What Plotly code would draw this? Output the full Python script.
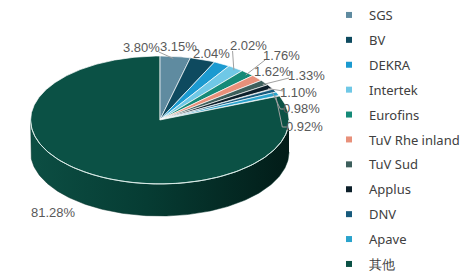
import numpy as np
import plotly.graph_objects as go

# ---- data ----
companies = ["SGS", "BV", "DEKRA", "Intertek", "Eurofins", "TuV Rhe inland",
             "TuV Sud", "Applus", "DNV", "Apave", "其他"]
shares = [3.80, 3.15, 2.04, 2.02, 1.76, 1.62, 1.33, 1.10, 0.98, 0.92, 81.28]
pct_labels = ["3.80%", "3.15%", "2.04%", "2.02%", "1.76%", "1.62%", "1.33%",
              "1.10%", "0.98%", "0.92%", "81.28%"]

# ---- style ----
colors = ["#5f8ba0", "#0e4a5f", "#1b9ad0", "#6fc8e6", "#158a78", "#e8907a",
          "#3d5f5c", "#0c1f2a", "#175a7c", "#2aa3cc", "#0b5145"]
CX, CY, A, B, DEPTH = 167, 120, 135, 64, 32
label_xy = [(148, 47), (186, 46), (221, 53), (260, 45), (294, 55), (285, 71),
            (320, 75), (312, 92), (315, 108), (318, 126), (56, 212)]
# label-side points of each leader line (the slice-side end is computed)
leader_pts = [[(166, 52)], [], [], [(243, 51)], [(277, 60)], [],
              [(302, 78)], [(296, 91)], [(298, 109), (293, 109)],
              [(301, 127), (295, 127)], []]

def rim(theta_deg, dy=0.0):
    t = np.radians(theta_deg)
    return CX + A * np.sin(t), CY - B * np.cos(t) + dy

fig = go.Figure()

# side wall (front half, 90..270 deg clockwise from 12 o'clock)
th = np.linspace(90, 270, 181)
xt, yt = rim(th)
xb, yb = rim(th[::-1], DEPTH)
fig.add_trace(go.Scatter(
    x=np.concatenate([xt, xb]), y=np.concatenate([yt, yb]),
    fill="toself", mode="lines", line=dict(color="#033029", width=0.5),
    fillgradient=dict(type="horizontal",
                      colorscale=[[0, "#0c4e43"], [0.45, "#063c33"], [1, "#021c18"]]),
    showlegend=False, hoverinfo="skip"))

# top face slices
total = sum(shares)
cum = 0.0
mids = []
for name, v, c in zip(companies, shares, colors):
    t0 = cum / total * 360
    t1 = (cum + v) / total * 360
    mids.append((t0 + t1) / 2)
    cum += v
    n = max(3, int((t1 - t0) * 2))
    th = np.linspace(t0, t1, n)
    xs, ys = rim(th)
    fig.add_trace(go.Scatter(
        x=np.concatenate([[CX], xs, [CX]]), y=np.concatenate([[CY], ys, [CY]]),
        fill="toself", mode="lines", fillcolor=c,
        line=dict(color="rgba(255,255,255,0.85)", width=0.8),
        showlegend=False, hoverinfo="text", text=f"{name}: {v:.2f}%"))

# rim highlight between top face and side
th = np.linspace(90, 270, 181)
xs, ys = rim(th)
fig.add_trace(go.Scatter(x=xs, y=ys, mode="lines",
                         line=dict(color="rgba(220,240,235,0.9)", width=1),
                         showlegend=False, hoverinfo="skip"))

# leader lines
for pts, mid in zip(leader_pts, mids):
    if not pts:
        continue
    px, py = rim(mid)
    lx = [p[0] for p in pts] + [float(px) - 2]
    ly = [p[1] for p in pts] + [float(py) + 2]
    fig.add_trace(go.Scatter(x=lx, y=ly, mode="lines",
                             line=dict(color="#a0a0a0", width=1),
                             showlegend=False, hoverinfo="skip"))

# legend entries
for name, c in zip(companies, colors):
    fig.add_trace(go.Scatter(x=[None], y=[None], mode="markers", name=name,
                             legendgroup=name,
                             marker=dict(symbol="square", size=6, color=c)))

# percent labels
for lab, (lx, ly) in zip(pct_labels, label_xy):
    fig.add_annotation(x=lx, y=ly, text=lab, showarrow=False,
                       font=dict(family="Liberation Sans, Arial", size=13, color="#595959"))

fig.update_layout(
    width=465, height=277, margin=dict(l=0, r=0, t=0, b=0),
    paper_bgcolor="white", plot_bgcolor="white",
    xaxis=dict(range=[0, 465], visible=False, fixedrange=True),
    yaxis=dict(range=[277, 0], visible=False, fixedrange=True),
    legend=dict(x=0.74, y=1 - 11 / 277, xanchor="left", yanchor="top",
                traceorder="grouped", tracegroupgap=5,
                font=dict(family="Noto Sans, Open Sans", size=13, color="#404040"),
                bgcolor="rgba(0,0,0,0)", itemwidth=30),
)

fig.write_html("out.html")
